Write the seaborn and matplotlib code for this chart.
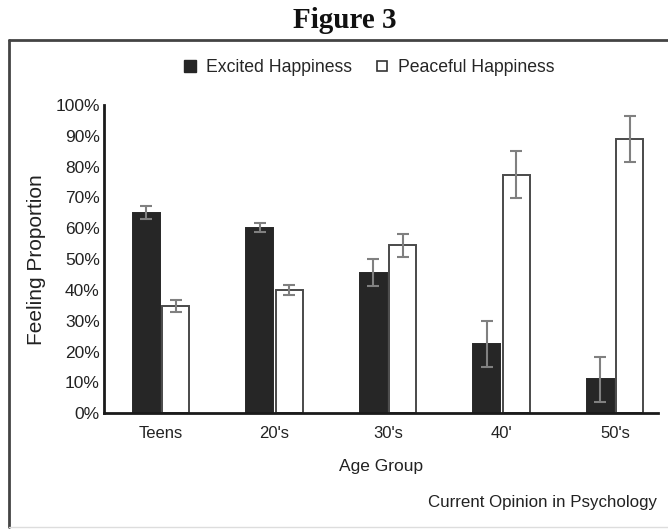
import matplotlib
matplotlib.use("Agg")
import matplotlib.pyplot as plt
from matplotlib.lines import Line2D
import seaborn as sns
import pandas as pd

# Feeling proportions (%) by age group, with error-bar half-widths
age_groups = ["Teens", "20's", "30's", "40'", "50's"]
excited = [65.1, 60.2, 45.6, 22.4, 11.0]
peaceful = [34.8, 40.0, 54.5, 77.4, 88.9]
excited_err = [2.0, 1.5, 4.4, 7.5, 7.4]
peaceful_err = [2.0, 1.7, 3.8, 7.6, 7.5]
series = ["Excited Happiness", "Peaceful Happiness"]
y_ticks = [0, 10, 20, 30, 40, 50, 60, 70, 80, 90, 100]

df = pd.DataFrame({
    "Age Group": age_groups * 2,
    "Feeling": [series[0]] * len(age_groups) + [series[1]] * len(age_groups),
    "Proportion": excited + peaceful,
    "Err": excited_err + peaceful_err,
})

sns.set_style("white")
plt.rcParams["font.family"] = ["Liberation Sans", "DejaVu Sans"]

W, H = 668, 529
fig = plt.figure(figsize=(W / 100, H / 100), dpi=100)
ax = fig.add_axes([104 / W, 1 - 413.3 / H, (658 - 104) / W, (413.3 - 105) / H])

fill = {series[0]: "#262626", series[1]: "white"}
edge = {series[0]: "#262626", series[1]: "#4a4a4a"}
sns.barplot(data=df, x="Age Group", y="Proportion", hue="Feeling",
            order=age_groups, hue_order=series, palette=fill,
            width=0.52, gap=0.085, errorbar=None, legend=False, ax=ax,
            saturation=1)

# style each bar and add error bars at its centre
for container, name, errs in zip(ax.containers, series, [excited_err, peaceful_err]):
    for bar, e in zip(container, errs):
        bar.set_edgecolor(edge[name])
        bar.set_linewidth(1.4)
        bar.set_zorder(2)
        cx = bar.get_x() + bar.get_width() / 2
        ax.errorbar(cx, bar.get_height(), yerr=e, color="#808080",
                    elinewidth=1.5, capsize=4.5, capthick=1.5, zorder=3)

ax.set_xlim(-0.5, 4.38)
ax.set_ylim(0, 100)
ax.set_yticks(y_ticks)
ax.set_yticklabels([f"{t}%" for t in y_ticks], fontsize=12.5, color="#222222")
ax.tick_params(axis="x", labelsize=12, colors="#222222", length=0, pad=9)
ax.tick_params(axis="y", length=0, pad=3)
for s in ["top", "right"]:
    ax.spines[s].set_visible(False)
for s in ["left", "bottom"]:
    ax.spines[s].set_color("#1a1a1a")
    ax.spines[s].set_linewidth(2)
ax.set_xlabel("Age Group", fontsize=12.5, color="#222222", labelpad=13)
ax.set_ylabel("Feeling Proportion", fontsize=15, color="#222222", labelpad=7)

handles = [
    Line2D([], [], marker="s", linestyle="none", markersize=8,
           markerfacecolor="#262626", markeredgecolor="#262626"),
    Line2D([], [], marker="s", linestyle="none", markersize=7,
           markerfacecolor="white", markeredgecolor="#333333", markeredgewidth=1.2),
]
fig.legend(handles, series, loc="center", bbox_to_anchor=(369 / W, 1 - 68 / H),
           ncol=2, frameon=False, fontsize=12.7, handlelength=0.8,
           handletextpad=0.5, columnspacing=1.3)

fig.text(428 / W, 1 - 503 / H, "Current Opinion in Psychology", fontsize=12.2,
         color="#222222", ha="left", va="center")

fig.text(345 / W, 1 - 28 / H, "Figure 3", fontsize=21, fontweight="bold",
         family="Liberation Serif", ha="center", va="baseline", color="#111111")

# outer frame
fig.add_artist(Line2D([9 / W, 9 / W], [2 / H, 1 - 40 / H], color="#444444", lw=2,
                      transform=fig.transFigure))
fig.add_artist(Line2D([9 / W, 1.0], [1 - 40 / H, 1 - 40 / H], color="#444444", lw=2,
                      transform=fig.transFigure))
fig.add_artist(Line2D([9 / W, 1.0], [2 / H, 2 / H], color="#dddddd", lw=1,
                      transform=fig.transFigure))

fig.savefig("out.png", dpi=100)
